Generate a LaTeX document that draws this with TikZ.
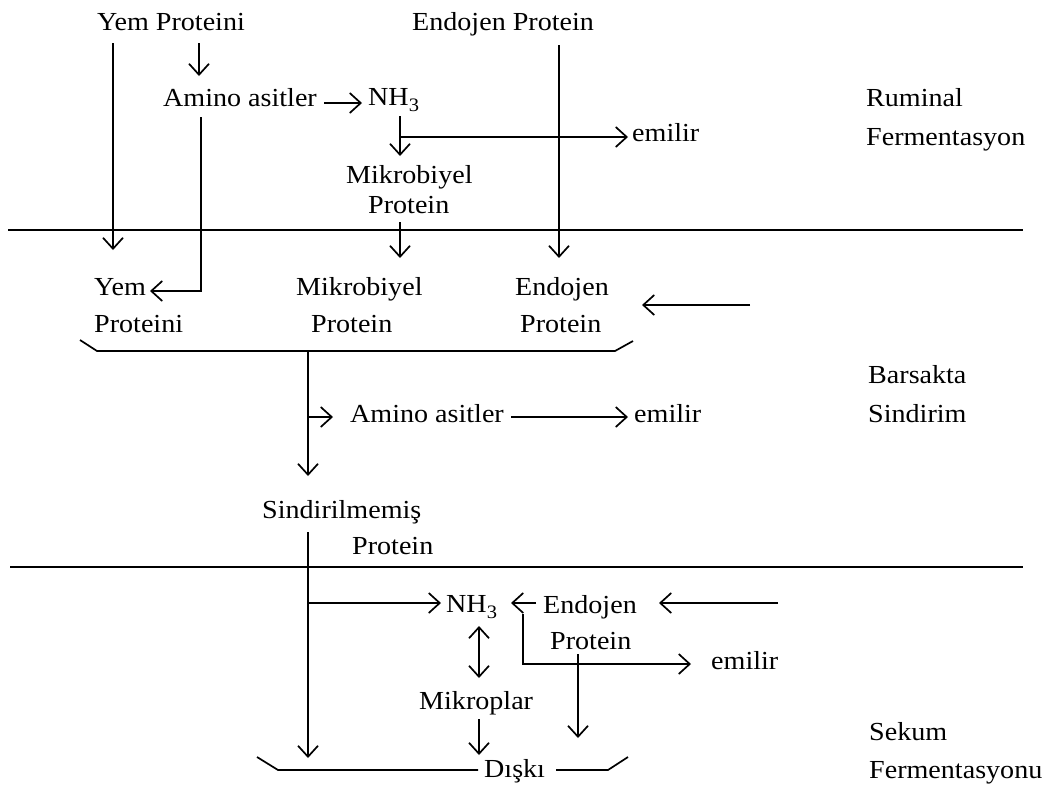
\documentclass[tikz,border=0pt]{standalone}
\usepackage{fontspec}
\setmainfont[FakeStretch=1.08]{Liberation Serif}
\usetikzlibrary{arrows.meta}
\newcommand{\lowsub}[1]{\raisebox{-6pt}{\fontsize{19}{19}\selectfont #1}}
\begin{document}
\begin{tikzpicture}[x=1pt,y=-1pt,
  lbl/.style={anchor=base west,inner sep=0pt,font=\fontsize{26}{30}\selectfont},
  arr/.style={line width=1.7pt,-{Straight Barb[length=11pt,width=20pt,line width=1.7pt]}},
  darr/.style={line width=1.7pt,{Straight Barb[length=11pt,width=20pt,line width=1.7pt]}-{Straight Barb[length=11pt,width=20pt,line width=1.7pt]}},
  ln/.style={line width=1.7pt},
  sep/.style={line width=2.1pt}]
\useasboundingbox (0,0) rectangle (1047,785);
% ---------- texts ----------
\node[lbl] (yp) at (97,30) {Yem Proteini};
\node[lbl] (ep) at (412,30) {Endojen Protein};
\node[lbl] (aa1) at (163,106) {Amino asitler};
\node[lbl] (nh1) at (368,105) {NH\lowsub{3}};
\node[lbl] (em1) at (632,141) {emilir};
\node[lbl] (rum) at (866,106) {Ruminal};
\node[lbl] (fer1) at (866,145) {Fermentasyon};
\node[lbl] (mk1) at (346,183) {Mikrobiyel};
\node[lbl] (pr1) at (368,213) {Protein};
\node[lbl] (yem2) at (94,295) {Yem};
\node[lbl] (yem2b) at (94,332) {Proteini};
\node[lbl] (mk2) at (296,295) {Mikrobiyel};
\node[lbl] (pr2) at (311,332) {Protein};
\node[lbl] (en2) at (515,295) {Endojen};
\node[lbl] (en2b) at (520,332) {Protein};
\node[lbl] (bar) at (868,383) {Barsakta};
\node[lbl] (sin) at (868,422) {Sindirim};
\node[lbl] (aa2) at (350,422) {Amino asitler};
\node[lbl] (em2) at (634,422) {emilir};
\node[lbl] (sm) at (262,518) {Sindirilmemiş};
\node[lbl] (smb) at (352,554) {Protein};
\node[lbl] (nh2) at (446,612) {NH\lowsub{3}};
\node[lbl] (en3) at (543,613) {Endojen};
\node[lbl] (en3b) at (550,649) {Protein};
\node[lbl] (em3) at (711,669) {emilir};
\node[lbl] (mkp) at (419,709) {Mikroplar};
\node[lbl] (dk) at (484,777) {Dışkı};
\node[lbl] (sek) at (869,740) {Sekum};
\node[lbl] (fer2) at (869,778) {Fermentasyonu};
% ---------- coordinates ----------
\coordinate (s1l) at (8,230);   \coordinate (s1r) at (1023,230);
\coordinate (s2l) at (10,567);  \coordinate (s2r) at (1023,567);
\coordinate (a1s) at (113,43);  \coordinate (a1e) at (113,250);
\coordinate (a2s) at (199,43);  \coordinate (a2e) at (199,76);
\coordinate (a3s) at (324,103); \coordinate (a3e) at (362,103);
\coordinate (a4s) at (201,117); \coordinate (a4c) at (201,291); \coordinate (a4e) at (150,291);
\coordinate (a5s) at (400,116); \coordinate (a5e) at (400,156);
\coordinate (a6s) at (400,137); \coordinate (a6e) at (628,137);
\coordinate (a7s) at (559,45);  \coordinate (a7e) at (559,258);
\coordinate (a8s) at (400,222); \coordinate (a8e) at (400,258);
\coordinate (a9s) at (750,305); \coordinate (a9e) at (642,305);
\coordinate (b1) at (80,340); \coordinate (b2) at (97,351); \coordinate (b3) at (615,351); \coordinate (b4) at (633,341);
\coordinate (m1s) at (308,351); \coordinate (m1e) at (308,476);
\coordinate (m2s) at (308,417); \coordinate (m2e) at (333,417);
\coordinate (m3s) at (511,417); \coordinate (m3e) at (628,417);
\coordinate (c1s) at (308,532); \coordinate (c1e) at (308,758);
\coordinate (c2s) at (308,603); \coordinate (c2e) at (441,603);
\coordinate (c3s) at (536,603); \coordinate (c3e) at (511,603);
\coordinate (c4s) at (778,603); \coordinate (c4e) at (659,603);
\coordinate (c5s) at (479,626); \coordinate (c5e) at (479,678);
\coordinate (c6s) at (523,614); \coordinate (c6c) at (523,664); \coordinate (c6e) at (691,664);
\coordinate (c7s) at (479,719); \coordinate (c7e) at (479,755);
\coordinate (c8s) at (578,654); \coordinate (c8e) at (578,738);
\coordinate (d1) at (257,757); \coordinate (d2) at (278,770); \coordinate (d3) at (478,770);
\coordinate (d4) at (556,770); \coordinate (d5) at (608,770); \coordinate (d6) at (628,757);
% ---------- lines ----------
\draw[sep] (s1l) -- (s1r);
\draw[sep] (s2l) -- (s2r);
\draw[arr] (a1s) -- (a1e);
\draw[arr] (a2s) -- (a2e);
\draw[arr] (a3s) -- (a3e);
\draw[arr] (a4s) -- (a4c) -- (a4e);
\draw[arr] (a5s) -- (a5e);
\draw[arr] (a6s) -- (a6e);
\draw[arr] (a7s) -- (a7e);
\draw[arr] (a8s) -- (a8e);
\draw[arr] (a9s) -- (a9e);
\draw[ln] (b1) -- (b2) -- (b3) -- (b4);
\draw[arr] (m1s) -- (m1e);
\draw[arr] (m2s) -- (m2e);
\draw[arr] (m3s) -- (m3e);
\draw[arr] (c1s) -- (c1e);
\draw[arr] (c2s) -- (c2e);
\draw[arr] (c3s) -- (c3e);
\draw[arr] (c4s) -- (c4e);
\draw[darr] (c5s) -- (c5e);
\draw[arr] (c6s) -- (c6c) -- (c6e);
\draw[arr] (c7s) -- (c7e);
\draw[arr] (c8s) -- (c8e);
\draw[ln] (d1) -- (d2) -- (d3);
\draw[ln] (d4) -- (d5) -- (d6);
\end{tikzpicture}
\end{document}
